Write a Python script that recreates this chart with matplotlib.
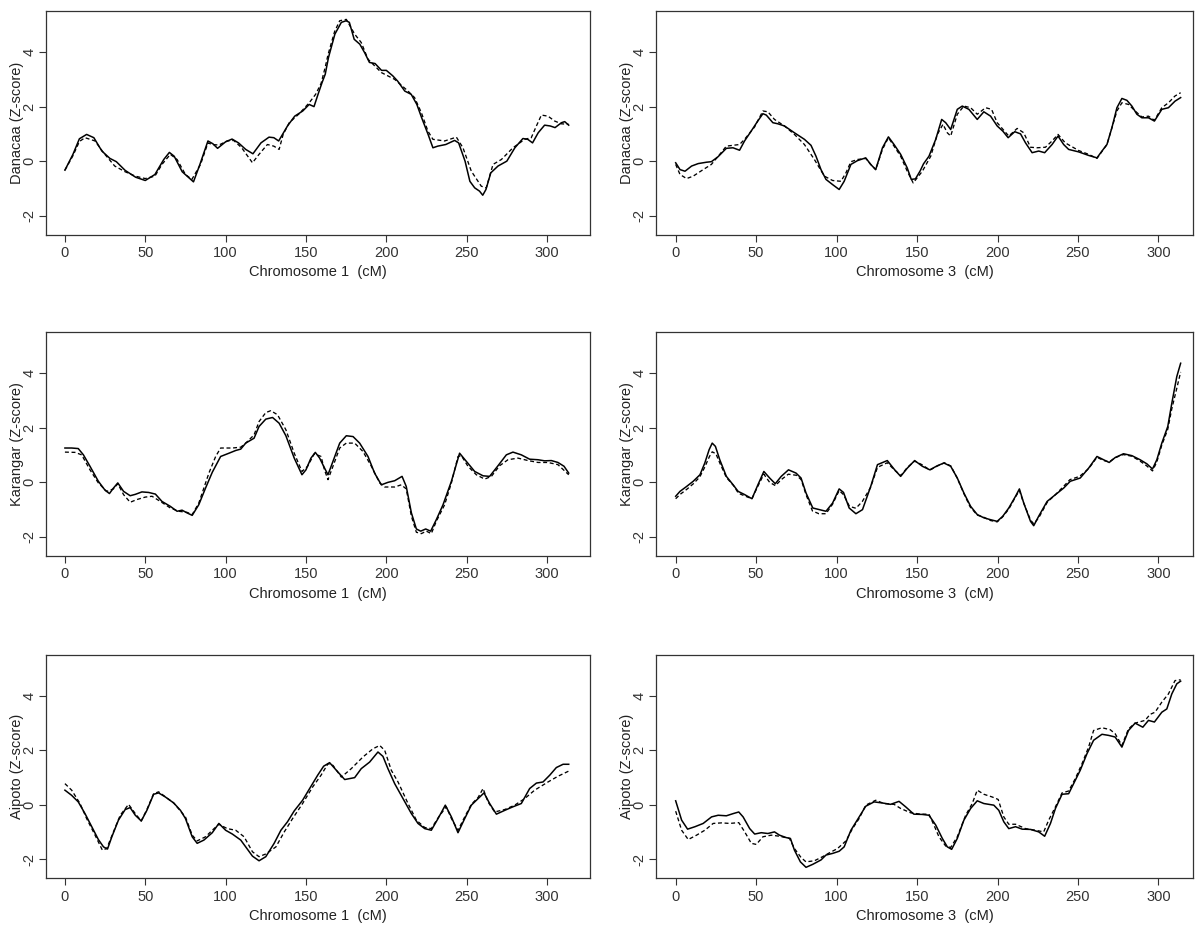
import matplotlib
matplotlib.use("Agg")
import matplotlib.pyplot as plt

plt.rcParams['font.family'] = ['Liberation Sans', 'DejaVu Sans']
plt.rcParams['axes.unicode_minus'] = False

# Danacaa, chromosome 1
dan1_x = [0, 5, 9, 13.5, 18, 23, 28, 32, 37.5, 44, 50, 56, 61.5, 65, 68, 73, 80, 84, 89, 92,
          95, 100, 104, 108, 112.5, 117, 122, 127, 130, 133, 136, 138.5, 143, 148, 152, 155, 157.5, 160, 162, 164,
          168, 172, 175, 177, 180, 183.5, 186.5, 189.5, 193, 197, 200, 204, 207, 211.5, 215.5, 219, 222, 226, 229, 232,
          237, 242.5, 245, 249, 252, 255, 258, 260, 262, 265, 269.5, 275, 280, 285, 288, 291, 294.5, 298.5, 302, 305,
          309, 311, 313.5]
dan1_y = [-0.33, 0.25, 0.82, 0.98, 0.86, 0.37, 0.1, -0.02, -0.34, -0.59, -0.71, -0.49, 0.06, 0.32, 0.18, -0.39, -0.76, -0.12, 0.74, 0.64,
          0.47, 0.71, 0.81, 0.67, 0.43, 0.27, 0.67, 0.88, 0.86, 0.74, 1.04, 1.29, 1.65, 1.84, 2.08, 2.0, 2.45, 2.88, 3.19, 3.8,
          4.66, 5.09, 5.15, 5.09, 4.47, 4.29, 3.98, 3.62, 3.58, 3.33, 3.33, 3.13, 2.94, 2.57, 2.45, 2.08, 1.59, 0.98, 0.49, 0.55,
          0.61, 0.76, 0.67, 0.0, -0.74, -0.98, -1.1, -1.25, -1.04, -0.43, -0.18, 0.0, 0.49, 0.83, 0.8, 0.67, 1.04, 1.32, 1.29, 1.23,
          1.41, 1.45, 1.32]
dan1_dx = [0, 5, 9, 12.5, 18.75, 24, 31, 37.5, 43.8, 50, 56, 60.4, 65.6, 69.8, 75, 79, 84.4, 89, 91.7, 95.8,
           101, 105, 110, 116.7, 120.8, 126, 130, 133.3, 135.8, 139.6, 145.8, 152, 156, 159.4, 162, 163.7, 167.8, 171, 175.1, 180.3,
           184.4, 188.6, 196.9, 205.2, 213.5, 217.6, 221.8, 225.9, 229, 236.3, 243.6, 247.7, 252.9, 259.1, 262.2, 266.4, 271.6, 278.8, 286.1, 290.2,
           293.4, 296.5, 300.6, 304.8, 308.9, 313.5]
dan1_dy = [-0.33, 0.2, 0.72, 0.86, 0.74, 0.31, -0.18, -0.39, -0.55, -0.64, -0.55, -0.12, 0.25, 0.06, -0.49, -0.67, -0.12, 0.67, 0.61, 0.59,
           0.74, 0.76, 0.49, -0.06, 0.25, 0.61, 0.55, 0.43, 0.98, 1.41, 1.74, 2.14, 2.45, 2.85, 3.45, 3.9, 4.75, 5.15, 5.2, 4.66,
           4.35, 3.74, 3.25, 3.0, 2.57, 2.33, 1.78, 1.1, 0.8, 0.74, 0.88, 0.49, -0.37, -0.92, -0.98, -0.12, 0.06, 0.49, 0.8, 0.86,
           1.29, 1.69, 1.65, 1.47, 1.37, 1.35]

# Danacaa, chromosome 3
dan3_x = [0, 2.7, 5.8, 9.9, 14, 19.1, 22.2, 26.3, 31.5, 35.6, 39.7, 42.8, 46.9, 51, 54.2, 56.3, 60.4, 63.5, 67.6, 73.8,
          80, 84.1, 87.2, 90.3, 93.4, 97.5, 101.6, 104.7, 108.9, 113, 118.1, 121.2, 124.3, 128.5, 132.2, 135.7, 139.8, 143.9, 146.4, 149,
          152, 154, 157.4, 161.6, 165.3, 167.8, 170.9, 175, 178.1, 182.2, 187.4, 191.5, 195.7, 199.8, 203.3, 206.6, 210.7, 214.3, 217.4, 221.5,
          225.6, 229.3, 233.9, 237.6, 241.1, 244.2, 250.4, 256.6, 261.8, 264.9, 268, 271.1, 274.2, 277.3, 280.4, 283.5, 286.6, 289.7, 293.8, 297.5,
          302.1, 306.2, 310.3, 313.8]
dan3_y = [-0.06, -0.31, -0.37, -0.18, -0.09, -0.04, -0.02, 0.16, 0.47, 0.49, 0.4, 0.74, 1.1, 1.47, 1.74, 1.69, 1.41, 1.37, 1.29, 1.04,
          0.8, 0.58, 0.18, -0.31, -0.67, -0.86, -1.04, -0.74, -0.12, 0.02, 0.12, -0.12, -0.31, 0.49, 0.89, 0.61, 0.25, -0.25, -0.67, -0.65,
          -0.35, -0.1, 0.18, 0.8, 1.53, 1.41, 1.16, 1.9, 2.02, 1.9, 1.53, 1.81, 1.65, 1.29, 1.1, 0.86, 1.08, 1.0, 0.67, 0.31,
          0.37, 0.31, 0.61, 0.92, 0.61, 0.43, 0.34, 0.21, 0.12, 0.37, 0.61, 1.23, 1.96, 2.3, 2.23, 2.02, 1.72, 1.59, 1.59, 1.47,
          1.9, 1.96, 2.2, 2.33]
dan3_dx = [0, 2.7, 6.8, 10.9, 17.1, 22.2, 27.4, 31.5, 39.7, 42.8, 49, 54.2, 57.3, 61.4, 67.6, 73.8, 80, 86.2, 92.4, 97.5,
           102.7, 105.8, 108.9, 113, 118.1, 121.2, 124.3, 128.5, 132.2, 135.7, 139.8, 143.9, 147.6, 150.1, 153.3, 158.5, 162.6, 166.1, 168.8, 170.9,
           175, 179.1, 183.3, 187.4, 192.6, 196.3, 199.8, 203.9, 207, 212.2, 216.3, 220.5, 224.6, 229.8, 233.9, 237.6, 242.1, 250.4, 256.6, 261.8,
           268, 274.2, 277.3, 281.4, 285.5, 289.7, 293.8, 297.5, 302.1, 306.2, 310.3, 313.8]
dan3_dy = [-0.12, -0.49, -0.64, -0.55, -0.31, -0.12, 0.25, 0.55, 0.61, 0.8, 1.25, 1.84, 1.81, 1.53, 1.29, 0.98, 0.61, 0.06, -0.55, -0.71,
           -0.74, -0.43, -0.02, 0.06, 0.1, -0.12, -0.31, 0.43, 0.86, 0.55, 0.18, -0.37, -0.8, -0.61, -0.37, 0.18, 0.98, 1.35, 1.04, 0.92,
           1.72, 2.02, 1.96, 1.72, 1.96, 1.9, 1.41, 1.13, 0.92, 1.2, 1.04, 0.51, 0.49, 0.51, 0.74, 0.98, 0.67, 0.39, 0.25, 0.1,
           0.61, 1.84, 2.14, 2.08, 1.84, 1.62, 1.65, 1.5, 1.96, 2.14, 2.39, 2.51]

# Karangar, chromosome 1
kar1_x = [0, 4.2, 8.3, 11.5, 15.6, 20.8, 25, 27.7, 30.2, 32.9, 36.5, 40.6, 43.8, 47.9, 52.1, 56.3, 60.4, 65.6, 69.8, 72.9,
          76, 79.2, 83.3, 87.5, 91.7, 96.9, 102.1, 106.3, 109.4, 112.5, 117.7, 120.8, 125, 129.2, 133.3, 137.5, 142.7, 147.5, 150, 153.1,
          155.8, 158.5, 161.6, 163.7, 166.8, 171, 175.1, 179.3, 183.4, 188.6, 192.7, 196.9, 201, 205.2, 209.8, 212.4, 215.6, 218.7, 221.4, 224.5,
          227.6, 231.1, 235.3, 240.5, 245.6, 249.8, 255, 260.2, 264.3, 269.5, 274.7, 278.8, 284, 289.2, 294.4, 298.5, 302.7, 306.8, 310.6, 313.5]
kar1_y = [1.26, 1.26, 1.24, 1.01, 0.59, 0.04, -0.29, -0.41, -0.21, -0.02, -0.33, -0.49, -0.44, -0.35, -0.37, -0.43, -0.7, -0.88, -1.06, -1.02,
          -1.12, -1.21, -0.82, -0.21, 0.37, 0.95, 1.07, 1.17, 1.22, 1.44, 1.62, 2.05, 2.32, 2.38, 2.17, 1.71, 0.89, 0.28, 0.46, 0.89,
          1.1, 0.89, 0.52, 0.28, 0.77, 1.44, 1.71, 1.68, 1.44, 0.95, 0.34, -0.09, 0.0, 0.06, 0.22, -0.15, -1.12, -1.71, -1.79, -1.71,
          -1.79, -1.37, -0.82, 0.04, 1.07, 0.77, 0.4, 0.24, 0.22, 0.61, 1.01, 1.11, 1.01, 0.85, 0.83, 0.79, 0.8, 0.73, 0.59, 0.34]
kar1_dx = [0, 6.3, 10.4, 15.6, 20.8, 26, 30.2, 32.9, 36.5, 40.6, 44.8, 50, 54.2, 59.4, 65.6, 70.8, 76, 79.2, 83.3, 89.6,
           93.8, 96.9, 104.2, 109.4, 112.5, 117.7, 120.8, 125, 128.1, 132.3, 137.5, 142.7, 147.5, 151, 155.2, 159.4, 161.5, 163.7, 166.8, 171,
           175.1, 180.3, 185.5, 190.7, 195.9, 199, 205.2, 209.3, 212.4, 215.6, 218.7, 221.8, 224.9, 228, 231.1, 236.3, 240.5, 244.6, 246.7, 250.8,
           256, 261.2, 265.4, 270.5, 275.7, 281.9, 288.2, 294.4, 300.6, 306.8, 313.5]
kar1_dy = [1.11, 1.1, 1.01, 0.46, -0.02, -0.33, -0.24, -0.05, -0.45, -0.73, -0.63, -0.54, -0.51, -0.7, -0.94, -1.06, -1.1, -1.18, -0.76, 0.34,
           0.95, 1.26, 1.26, 1.29, 1.44, 1.74, 2.23, 2.56, 2.63, 2.48, 1.93, 1.07, 0.4, 0.59, 1.05, 0.95, 0.46, 0.1, 0.59, 1.26,
           1.44, 1.44, 1.13, 0.59, -0.02, -0.17, -0.17, -0.09, -0.24, -1.24, -1.83, -1.88, -1.79, -1.88, -1.43, -0.82, -0.02, 0.95, 0.98, 0.59,
           0.28, 0.12, 0.22, 0.61, 0.83, 0.89, 0.8, 0.73, 0.73, 0.65, 0.28]

# Karangar, chromosome 3
kar3_x = [0, 2.7, 6.8, 10.9, 15.1, 18.1, 20.8, 22.7, 24.7, 27.4, 31.5, 35.7, 38.8, 42.9, 47.4, 51.1, 54.8, 58.4, 61.9, 65.6,
          70.1, 74.8, 77.9, 81, 85.2, 89.3, 93.4, 97.5, 101.6, 104.3, 107.8, 112, 116.1, 121.2, 125.4, 131.5, 136.1, 139.8, 143.9, 148.5,
          153.3, 157.9, 162.6, 166.7, 170.9, 175, 179.1, 183.3, 187.4, 191.5, 195.7, 199.8, 203.3, 207, 211.2, 213.6, 216.3, 220.5, 222.5, 225.6,
          230.8, 236, 241.1, 245.2, 251.4, 256.6, 261.8, 265.9, 269.4, 273.1, 278.3, 283.5, 288.6, 292.8, 296.3, 299, 302.1, 305.8, 308.3, 311.4,
          313.8]
kar3_y = [-0.51, -0.33, -0.15, 0.04, 0.28, 0.71, 1.2, 1.44, 1.32, 0.83, 0.22, -0.09, -0.33, -0.45, -0.6, -0.09, 0.4, 0.16, -0.05, 0.22,
          0.46, 0.34, 0.16, -0.39, -0.94, -1.0, -1.06, -0.76, -0.24, -0.37, -0.94, -1.15, -1.0, -0.15, 0.65, 0.8, 0.46, 0.22, 0.52, 0.8,
          0.59, 0.46, 0.61, 0.71, 0.59, 0.16, -0.39, -0.88, -1.18, -1.3, -1.37, -1.43, -1.24, -0.94, -0.51, -0.24, -0.76, -1.43, -1.59, -1.24,
          -0.7, -0.45, -0.21, 0.04, 0.16, 0.52, 0.95, 0.83, 0.73, 0.91, 1.05, 0.98, 0.83, 0.68, 0.49, 0.83, 1.44, 2.05, 2.9, 3.88,
          4.37]
kar3_dx = [0, 3, 7, 11, 15, 18, 21, 22.7, 25, 27.5, 31.5, 36, 39, 43, 47.4, 51, 54.8, 58.4, 62, 65.6,
           70, 75, 78, 81, 85, 89, 93.4, 97.5, 101.6, 104.3, 108, 112, 116, 121, 125.4, 131.5, 136, 140, 144, 148.5,
           153, 158, 162.6, 167, 171, 175, 179, 183, 187.4, 191.5, 195.7, 199.8, 203, 207, 211, 213.6, 216, 220.5, 222.5, 225.6,
           231, 236, 241, 245, 251, 256.6, 261.8, 266, 269.4, 273, 278, 283.5, 288.6, 292.8, 296.3, 299, 302, 305.8, 308.3, 311.4,
           313.8]
kar3_dy = [-0.6, -0.43, -0.25, -0.05, 0.2, 0.55, 0.95, 1.12, 1.05, 0.7, 0.18, -0.12, -0.4, -0.5, -0.6, -0.15, 0.3, 0.0, -0.12, 0.1,
           0.3, 0.26, 0.1, -0.45, -1.05, -1.15, -1.15, -0.8, -0.3, -0.45, -0.88, -0.95, -0.7, -0.2, 0.55, 0.72, 0.45, 0.25, 0.55, 0.78,
           0.65, 0.45, 0.6, 0.72, 0.6, 0.15, -0.4, -0.9, -1.2, -1.28, -1.4, -1.45, -1.28, -0.98, -0.55, -0.3, -0.72, -1.38, -1.52, -1.3,
           -0.72, -0.45, -0.15, 0.1, 0.22, 0.5, 0.92, 0.8, 0.75, 0.9, 1.02, 0.96, 0.78, 0.6, 0.42, 0.75, 1.35, 1.95, 2.7, 3.45,
           4.05]

# Aipoto, chromosome 1
aip1_x = [0, 4.2, 8.3, 12.5, 16.7, 20.8, 24, 26.5, 29.2, 33.3, 37.5, 40.6, 43.8, 47.5, 51, 55.2, 58.3, 62.5, 67.7, 71.9,
          75, 79.2, 82.3, 86.5, 91.7, 95.8, 100, 104.2, 109.4, 112.5, 116.7, 120.8, 125, 130.2, 134.4, 138.5, 142.7, 147.9, 153.1, 157.3,
          161, 164.7, 168.9, 174.1, 180.3, 184.4, 189.6, 194.8, 197.9, 201, 205.2, 210.4, 215.6, 219.7, 223.9, 228, 232.2, 236.7, 240.5, 244.6,
          248.8, 252.9, 257.1, 260.8, 264.3, 268.5, 273.7, 278.8, 284, 289.2, 293.4, 297.5, 301.7, 305.8, 310, 313.5]
aip1_y = [0.54, 0.35, 0.11, -0.32, -0.8, -1.27, -1.54, -1.62, -1.17, -0.56, -0.17, -0.1, -0.38, -0.59, -0.2, 0.39, 0.44, 0.29, 0.07, -0.2,
          -0.5, -1.17, -1.41, -1.29, -1.02, -0.68, -0.93, -1.07, -1.29, -1.54, -1.88, -2.05, -1.9, -1.41, -0.93, -0.62, -0.22, 0.17, 0.68, 1.09,
          1.42, 1.55, 1.27, 0.93, 1.0, 1.33, 1.57, 1.94, 1.78, 1.33, 0.78, 0.23, -0.32, -0.68, -0.87, -0.93, -0.5, -0.01, -0.44, -1.02,
          -0.5, -0.01, 0.23, 0.44, 0.05, -0.34, -0.2, -0.07, 0.05, 0.6, 0.8, 0.84, 1.09, 1.37, 1.49, 1.49]
aip1_dx = [0, 4.2, 9.4, 13.5, 18.75, 23.3, 26, 30.2, 34.4, 39.6, 43.8, 47.5, 51, 55.2, 58.3, 67.7, 75, 79.2, 82.3, 87.5,
           91.7, 95.8, 101, 106.3, 111.5, 116.7, 120.8, 125, 131.3, 136.5, 141.7, 147.9, 154.2, 159.4, 163.7, 166.8, 172, 178.2, 185.5, 191.7,
           195.9, 199, 203.1, 207.3, 213.5, 218.7, 223.9, 228, 232.6, 237.3, 240.5, 244.6, 248.8, 252.9, 257.1, 260.2, 263.3, 267.4, 273.7, 279.9,
           286.1, 292.3, 300.6, 306.8, 313.5]
aip1_dy = [0.78, 0.54, 0.05, -0.5, -1.11, -1.66, -1.6, -0.99, -0.38, 0.02, -0.32, -0.59, -0.17, 0.41, 0.48, 0.07, -0.44, -1.11, -1.32, -1.17,
           -0.93, -0.71, -0.87, -0.93, -1.17, -1.72, -1.9, -1.8, -1.54, -0.99, -0.5, 0.05, 0.66, 1.09, 1.51, 1.45, 1.02, 1.33, 1.76, 2.06,
           2.18, 2.0, 1.27, 0.84, 0.05, -0.56, -0.83, -0.87, -0.44, -0.07, -0.5, -0.93, -0.44, 0.02, 0.27, 0.6, 0.11, -0.26, -0.17, -0.01,
           0.23, 0.54, 0.84, 1.05, 1.24]

# Aipoto, chromosome 3
aip3_x = [0, 3.7, 7.4, 12, 17.1, 22.3, 26.4, 31.5, 35.7, 39.2, 41.9, 46, 49.1, 53.2, 57.3, 61.4, 64.5, 68.7, 71.3, 73.8,
          77.5, 81, 85.2, 90.3, 93.4, 97.5, 101.6, 104.7, 108.9, 113, 118.1, 123.3, 128.5, 133.6, 138.8, 142.9, 148, 153.2, 157.4, 161.6,
          165.7, 168.8, 171.5, 175, 179.1, 183.3, 187.4, 191.5, 197.7, 200.8, 203.9, 207, 211.2, 215.3, 220.5, 225.6, 229.3, 232.9, 236, 240.1,
          244.2, 247.3, 251.4, 255.6, 259.7, 264.9, 269, 273.1, 277.3, 281.4, 285.5, 290.3, 293.8, 297.5, 302.1, 305.2, 308.3, 311.4, 313.8]
aip3_y = [0.15, -0.56, -0.89, -0.8, -0.68, -0.44, -0.38, -0.4, -0.32, -0.26, -0.44, -0.87, -1.07, -1.02, -1.05, -0.99, -1.11, -1.2, -1.23, -1.66,
          -2.09, -2.29, -2.18, -2.02, -1.84, -1.78, -1.7, -1.54, -0.93, -0.54, -0.05, 0.11, 0.07, 0.02, 0.13, -0.07, -0.34, -0.35, -0.38, -0.74,
          -1.23, -1.54, -1.63, -1.23, -0.56, -0.13, 0.15, 0.05, -0.01, -0.2, -0.62, -0.87, -0.8, -0.89, -0.9, -0.99, -1.15, -0.68, -0.13, 0.39,
          0.41, 0.78, 1.27, 1.88, 2.37, 2.59, 2.55, 2.49, 2.12, 2.73, 3.0, 2.85, 3.1, 3.04, 3.4, 3.52, 4.07, 4.44, 4.54]
aip3_dx = [0, 3.7, 7.8, 13, 18.1, 23.3, 28.5, 33.6, 39.2, 42.9, 47, 50.1, 54.2, 59.4, 64.5, 70.7, 73.8, 77.9, 81, 86.2,
           91.3, 95.5, 100.6, 105.8, 109.9, 114, 118.1, 124.3, 129.5, 135.7, 139.8, 146, 152.2, 157.4, 160.5, 163.6, 167.8, 170.9, 175, 180.2,
           184.3, 187.4, 191.5, 196.7, 200.4, 203.9, 207, 211.2, 217.4, 223.6, 228.7, 231.8, 236, 240.1, 244.2, 248.3, 252.5, 256.6, 259.7, 264.9,
           270, 273.1, 277.3, 281.4, 285.5, 291.7, 294.8, 297.9, 302.1, 306.2, 310.3, 313.8]
aip3_dy = [-0.23, -0.93, -1.27, -1.11, -0.93, -0.68, -0.66, -0.68, -0.65, -0.99, -1.41, -1.45, -1.17, -1.11, -1.15, -1.23, -1.6, -1.93, -2.09, -2.05,
           -1.9, -1.76, -1.6, -1.32, -0.87, -0.5, -0.01, 0.17, 0.05, 0.02, -0.13, -0.29, -0.34, -0.34, -0.74, -1.17, -1.51, -1.56, -1.17, -0.38,
           0.05, 0.54, 0.39, 0.29, 0.2, -0.44, -0.71, -0.71, -0.87, -0.93, -0.99, -0.56, -0.07, 0.44, 0.51, 0.96, 1.51, 2.12, 2.73, 2.83,
           2.76, 2.61, 2.18, 2.79, 3.0, 3.1, 3.32, 3.4, 3.77, 4.07, 4.56, 4.59]

ylabels = ["Danacaa (Z-score)", "Karangar (Z-score)", "Aipoto (Z-score)"]
xlabels = ["Chromosome 1  (cM)", "Chromosome 3  (cM)"]
xticks = [0, 50, 100, 150, 200, 250, 300]
yticks = [-2, 0, 2, 4]

panels = [
    [(dan1_x, dan1_y, dan1_dx, dan1_dy), (dan3_x, dan3_y, dan3_dx, dan3_dy)],
    [(kar1_x, kar1_y, kar1_dx, kar1_dy), (kar3_x, kar3_y, kar3_dx, kar3_dy)],
    [(aip1_x, aip1_y, aip1_dx, aip1_dy), (aip3_x, aip3_y, aip3_dx, aip3_dy)],
]

fig = plt.figure(figsize=(12, 9.26), dpi=100)

col_left = [0.0383, 0.5467]
col_w = [0.4533, 0.4475]
row_bottom = [0.7465, 0.3996, 0.0513]
row_h = 0.2414
xlims = [(-11.8, 326.7), (-12.2, 321.5)]
dark = '#333333'

for r in range(3):
    for c in range(2):
        x, y, dx, dy = panels[r][c]
        ax = fig.add_axes([col_left[c], row_bottom[r], col_w[c], row_h])
        ax.plot(x, y, color='black', lw=1.1)
        ax.plot(dx, dy, color='black', lw=0.95, linestyle=(0, (3, 2)))
        ax.set_xlim(xlims[c])
        ax.set_ylim(-2.7, 5.5)
        ax.set_xticks(xticks)
        ax.set_yticks(yticks)
        ax.tick_params(direction='out', length=5, width=0.8, labelsize=10.5,
                       colors=dark)
        ax.tick_params(axis='x', pad=3)
        ax.tick_params(axis='y', pad=2)
        plt.setp(ax.get_yticklabels(), rotation=90, va='center')
        for s in ax.spines.values():
            s.set_color(dark)
            s.set_linewidth(0.9)
        ax.set_xlabel(xlabels[c], fontsize=10.5, color='#222222', labelpad=4)
        ax.set_ylabel(ylabels[r], fontsize=10.5, color='#222222')
        # y label sits about 22 px left of the frame (its right edge)
        ax.yaxis.set_label_coords(-22 / (col_w[c] * 1200), 0.5)

fig.savefig("out.png", dpi=100)
